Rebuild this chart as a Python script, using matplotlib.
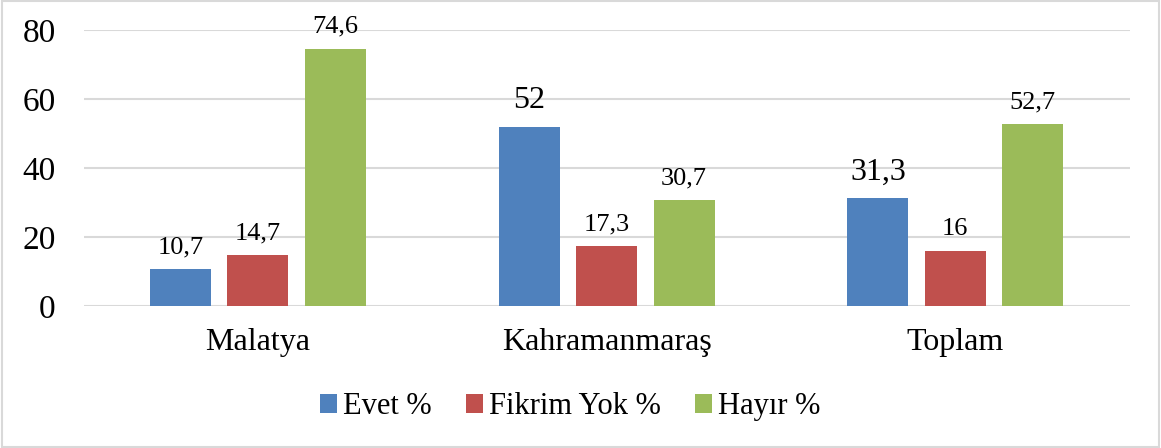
import matplotlib.pyplot as plt
import numpy as np
from matplotlib.patches import Rectangle

plt.rcParams['font.family'] = ['Liberation Serif', 'DejaVu Serif']

categories = ['Malatya', 'Kahramanmaraş', 'Toplam']
series_names = ['Evet %', 'Fikrim Yok %', 'Hayır %']
evet = [10.7, 52, 31.3]
fikrim_yok = [14.7, 17.3, 16]
hayir = [74.6, 30.7, 52.7]
evet_labels = ['10,7', '52', '31,3']
fikrim_labels = ['14,7', '17,3', '16']
hayir_labels = ['74,6', '30,7', '52,7']
yticks = [0, 20, 40, 60, 80]

colors = ['#4F81BD', '#C0504D', '#9BBB59']

fig = plt.figure(figsize=(11.61, 4.48), dpi=100)
ax = fig.add_axes([0.072, 0.317, 0.901, 0.616])

x = np.arange(len(categories))
w = 0.175
step = 0.222
all_vals = [evet, fikrim_yok, hayir]
all_labels = [evet_labels, fikrim_labels, hayir_labels]
label_sizes = [[19, 23, 23], [19, 19, 19], [19, 19, 19]]

for i, (vals, labs) in enumerate(zip(all_vals, all_labels)):
    xs = x + (i - 1) * step
    ax.bar(xs, vals, width=w, color=colors[i], label=series_names[i], zorder=3)
    for xi, v, lab, fs in zip(xs, vals, labs, label_sizes[i]):
        ax.annotate(lab, (xi, v), xytext=(0, 8), textcoords='offset points',
                    ha='center', va='bottom', fontsize=fs, color='#000000')

ax.set_xlim(-0.5, 2.5)
ax.set_ylim(0, 80)
ax.set_yticks(yticks)
ax.set_xticks(x)
ax.set_xticklabels(categories)
ax.tick_params(axis='y', length=0, labelsize=24, pad=20)
ax.tick_params(axis='x', length=0, labelsize=23, pad=16)
ax.yaxis.grid(True, color='#D9D9D9', linewidth=1.5, zorder=0)
for s in ax.spines.values():
    s.set_visible(False)

leg = fig.legend(loc='center', bbox_to_anchor=(0.491, 0.092), ncol=3, frameon=False,
                 fontsize=22, handlelength=0.55, handleheight=0.55, handletextpad=0.2,
                 columnspacing=1.12)

fig.patches.append(Rectangle((0.002, 0.003), 0.996, 0.994, transform=fig.transFigure,
                             fill=False, edgecolor='#D9D9D9', linewidth=1.5))

fig.savefig('out.png', dpi=100)
